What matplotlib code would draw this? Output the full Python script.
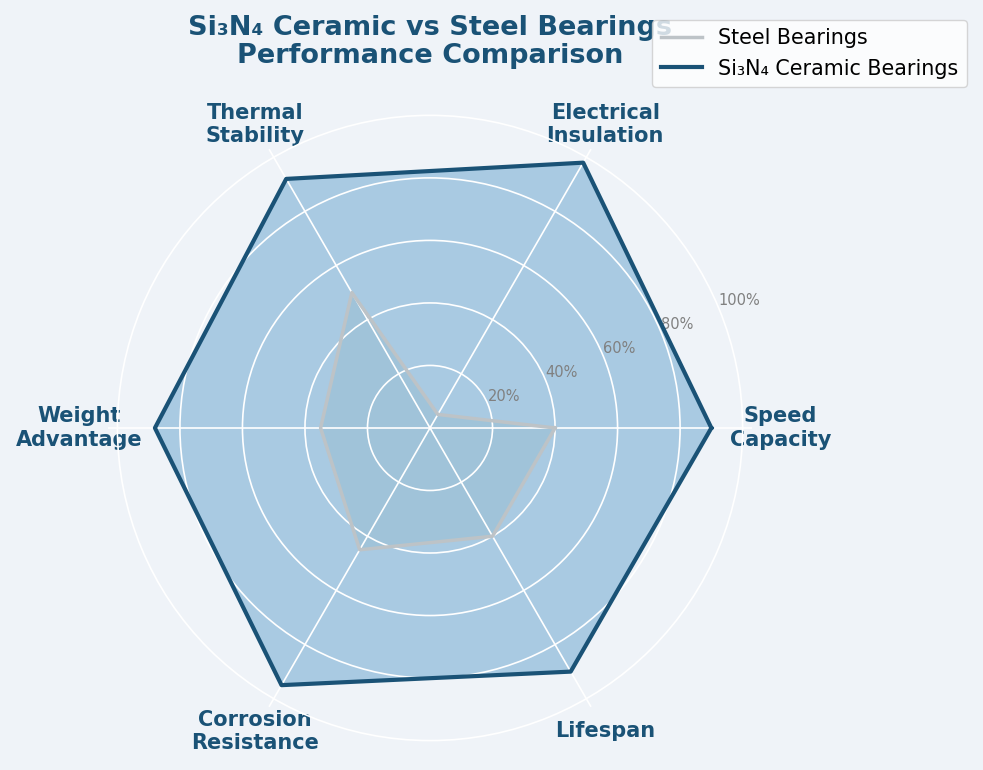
import numpy as np
import matplotlib.pyplot as plt

# Données
categories = ['Speed\nCapacity', 'Electrical\nInsulation', 'Thermal\nStability',
              'Weight\nAdvantage', 'Corrosion\nResistance', 'Lifespan']
steel = [40, 5, 50, 35, 45, 40]
ceramic = [90, 98, 92, 88, 95, 90]
r_ticks = [20, 40, 60, 80, 100]
r_labels = ['20%', '40%', '60%', '80%', '100%']

bg = '#eff3f8'
dark = '#1a5276'

n = len(categories)
angles = np.linspace(0, 2 * np.pi, n, endpoint=False).tolist()
angles_c = angles + angles[:1]
steel_c = steel + steel[:1]
ceramic_c = ceramic + ceramic[:1]

fig = plt.figure(figsize=(9.83, 7.7), dpi=100, facecolor=bg)
ax = fig.add_axes([0.1099, 0.026, 0.6551, 0.8364], polar=True)
ax.set_facecolor(bg)

ax.plot(angles_c, steel_c, color='#bdc3c7', linewidth=2.5, label='Steel Bearings')
ax.fill(angles_c, steel_c, color='#95a5a6', alpha=0.15)
ax.plot(angles_c, ceramic_c, color=dark, linewidth=3, label='Si₃N₄ Ceramic Bearings')
ax.fill(angles_c, ceramic_c, color='#2980b9', alpha=0.35)

ax.set_ylim(0, 103)
ax.set_yticks(r_ticks)
ax.set_yticklabels(r_labels, color='gray', fontsize=10.5)
ax.set_rlabel_position(22.5)
ax.set_xticks(angles)
ax.set_xticklabels(categories, fontsize=15, fontweight='bold', color=dark)
ax.tick_params(axis='x', pad=10)
ax.grid(color='white', linewidth=1.2)
ax.spines['polar'].set_visible(False)

fig.text(0.4374, 0.98, 'Si₃N₄ Ceramic vs Steel Bearings\nPerformance Comparison',
         ha='center', va='top', fontsize=19.5, fontweight='bold', color=dark,
         linespacing=1.1)

fig.legend(loc='upper right', bbox_to_anchor=(0.9837, 0.974), fontsize=14.9,
           facecolor='white', framealpha=0.8, borderaxespad=0)

plt.savefig('out.png', dpi=100, facecolor=bg)
